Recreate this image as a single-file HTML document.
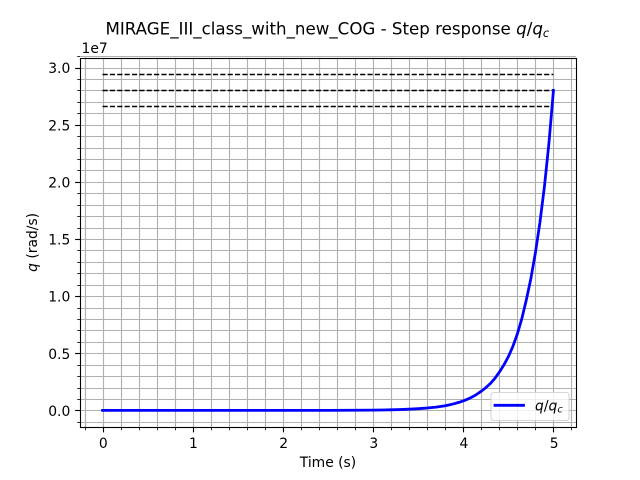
<!DOCTYPE html>
<html>
<head>
<meta charset="utf-8">
<title>Step response</title>
<style>
html,body{margin:0;padding:0;background:#fff;width:640px;height:480px;overflow:hidden}
svg{display:block}
text{font-family:"DejaVu Sans","Liberation Sans",sans-serif;font-size:13.89px;fill:#000}
</style>
</head>
<body>
<svg id="chart" xmlns="http://www.w3.org/2000/svg" width="640" height="480" viewBox="0 0 640 480">
  <rect x="0" y="0" width="640" height="480" fill="#fff"/>
  <rect x="80" y="57.6" width="496" height="369.6" fill="#fff"/>
  <g id="grid"></g>
  <g id="series"></g>
  <g id="ticks"></g>
  <rect x="80.5" y="58.5" width="496" height="369" fill="none" stroke="#000" stroke-width="1.11"/>
  <text x="327.4" y="34.5" text-anchor="middle" style="font-size:16.67px">MIRAGE_III_class_with_new_COG - Step response <tspan font-style="italic">q</tspan>/<tspan font-style="italic">q</tspan><tspan font-style="italic" dy="2.5" style="font-size:11.67px">c</tspan></text>
  <text x="81.5" y="53">1e7</text>
  <text x="328" y="467" text-anchor="middle">Time (s)</text>
  <text transform="translate(37 242.4) rotate(-90)" text-anchor="middle"><tspan font-style="italic">q</tspan> (rad/s)</text>
  <g>
    <rect x="491" y="392.5" width="78" height="28" rx="2.8" ry="2.8" fill="#fff" fill-opacity="0.8" stroke="#ccc" stroke-opacity="0.8" stroke-width="1.11"/>
    <line x1="495" y1="405.3" x2="523.5" y2="405.3" stroke="#0000ff" stroke-width="2.78" stroke-linecap="square"/>
    <text x="535" y="410.5"><tspan font-style="italic">q</tspan>/<tspan font-style="italic">q</tspan><tspan font-style="italic" dy="2" style="font-size:9.72px">c</tspan></text>
  </g>
</svg>
<script>
var times = [0,0.5,1,1.5,2,2.5,3,3.1,3.2,3.3,3.4,3.5,3.6,3.7,3.8,3.85,3.9,3.95,4,4.05,4.1,4.15,4.2,4.25,4.3,4.35,4.4,4.45,4.5,4.55,4.6,4.65,4.7,4.75,4.8,4.85,4.9,4.95,5];
var response = [0,0,0,0.00002,0.0001,0.0005,0.0026,0.0037,0.0052,0.0074,0.0105,0.015,0.021,0.029,0.041,0.049,0.059,0.070,0.083,0.099,0.118,0.141,0.168,0.199,0.235,0.28,0.335,0.397,0.47,0.56,0.67,0.805,0.97,1.155,1.38,1.645,1.96,2.34,2.80];
var referenceLevels = [2.94,2.80,2.66];
var xTickValues = [0,1,2,3,4,5];
var xTickLabels = ['0','1','2','3','4','5'];
var yTickValues = [0,0.5,1,1.5,2,2.5,3];
var yTickLabels = ['0.0','0.5','1.0','1.5','2.0','2.5','3.0'];
var xMinorValues = [-0.2,0.2,0.4,0.6,0.8,1.2,1.4,1.6,1.8,2.2,2.4,2.6,2.8,3.2,3.4,3.6,3.8,4.2,4.4,4.6,4.8,5.2];
var yMinorValues = [-0.1,0.1,0.2,0.3,0.4,0.6,0.7,0.8,0.9,1.1,1.2,1.3,1.4,1.6,1.7,1.8,1.9,2.1,2.2,2.3,2.4,2.6,2.7,2.8,2.9,3.1];

var NS = 'http://www.w3.org/2000/svg';
var AX = {left:80, right:576, top:57.6, bottom:427.2};
var tMin = -0.25, tMax = 5.25;
var qMin = -0.147, qMax = 3.087;
function xScale(t){ return AX.left + (t - tMin) / (tMax - tMin) * (AX.right - AX.left); }
function yScale(q){ return AX.bottom - (q - qMin) / (qMax - qMin) * (AX.bottom - AX.top); }
function snap(v){ return Math.floor(v + 0.5) + 0.5; }
function makeLine(parent, x1, y1, x2, y2, color, width){
  var el = document.createElementNS(NS, 'line');
  el.setAttribute('x1', x1);
  el.setAttribute('y1', y1);
  el.setAttribute('x2', x2);
  el.setAttribute('y2', y2);
  el.setAttribute('stroke', color);
  el.setAttribute('stroke-width', width);
  parent.appendChild(el);
  return el;
}
function makeText(parent, x, y, anchor, str){
  var el = document.createElementNS(NS, 'text');
  el.setAttribute('x', x);
  el.setAttribute('y', y);
  el.setAttribute('text-anchor', anchor);
  el.textContent = str;
  parent.appendChild(el);
  return el;
}
var gridG = document.getElementById('grid');
var ticksG = document.getElementById('ticks');
var seriesG = document.getElementById('series');
var GRID = '#b0b0b0', GW = 1.11;

xMinorValues.concat(xTickValues).forEach(function(v){
  var px = snap(xScale(v));
  var el = makeLine(gridG, px, AX.top, px, AX.bottom, GRID, GW);
  
  
});
yMinorValues.concat(yTickValues).forEach(function(v){
  var py = snap(yScale(v));
  var el = makeLine(gridG, AX.left, py, AX.right, py, GRID, GW);
  
  
});

xMinorValues.forEach(function(v){
  var px = snap(xScale(v));
  var el = makeLine(ticksG, px, AX.bottom + 0.3, px, AX.bottom + 3.1, '#000', 0.83);
  
  
});
yMinorValues.forEach(function(v){
  var py = snap(yScale(v));
  var el = makeLine(ticksG, AX.left - 2.78, py, AX.left, py, '#000', 0.83);
  
  
});
xTickValues.forEach(function(v, i){
  var px = snap(xScale(v));
  var el = makeLine(ticksG, px, AX.bottom + 0.3, px, AX.bottom + 5.16, '#000', 1.11);
  
  
  var label = makeText(ticksG, xScale(v) + 0.7, 447.8, 'middle', xTickLabels[i]);
  
  
});
yTickValues.forEach(function(v, i){
  var py = snap(yScale(v));
  var el = makeLine(ticksG, AX.left - 4.86, py, AX.left, py, '#000', 1.11);
  
  
  var label = makeText(ticksG, 70.3, yScale(v) + 5.6, 'end', yTickLabels[i]);
  
  
});

referenceLevels.forEach(function(v){
  var py = snap(yScale(v));
  var el = makeLine(seriesG, xScale(times[0]), py, xScale(times[times.length - 1]), py, '#000', 1.39);
  el.setAttribute('stroke-dasharray', '5.14 2.22');
  
  
});

var curve = document.createElementNS(NS, 'polyline');
curve.setAttribute('points', times.map(function(t, i){
  return xScale(t).toFixed(2) + ',' + yScale(response[i]).toFixed(2);
}).join(' '));
curve.setAttribute('fill', 'none');
curve.setAttribute('stroke', '#0000ff');
curve.setAttribute('stroke-width', '2.78');
curve.setAttribute('stroke-linecap', 'square');
curve.setAttribute('stroke-linejoin', 'round');


seriesG.appendChild(curve);
</script>
</body>
</html>
